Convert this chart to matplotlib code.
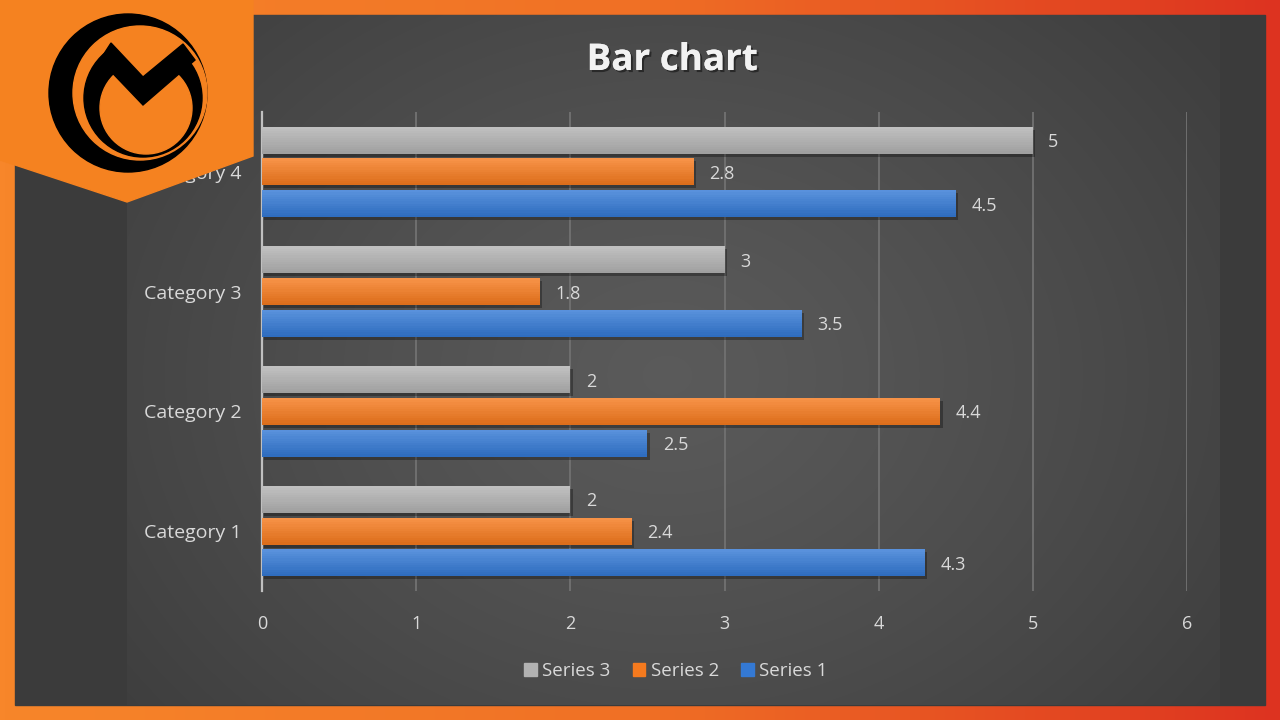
import matplotlib
matplotlib.use('Agg')
import matplotlib.pyplot as plt
import matplotlib.patheffects as pe
import numpy as np
from matplotlib.patches import Polygon, Circle, Rectangle
from matplotlib.colors import LinearSegmentedColormap, to_rgb

# data
categories = ['Category 1', 'Category 2', 'Category 3', 'Category 4']
series_names = ['Series 1', 'Series 2', 'Series 3']
series1 = [4.3, 2.5, 3.5, 4.5]
series2 = [2.4, 4.4, 1.8, 2.8]
series3 = [2, 2, 3, 5]
x_ticks = [0, 1, 2, 3, 4, 5, 6]

colors = ['#3479d4', '#f57a1e', '#b2b2b2']
text_col = '#d9d9d9'

plt.rcParams['font.family'] = ['Open Sans', 'DejaVu Sans']

fig = plt.figure(figsize=(12.8, 7.2), dpi=100)

# background: orange->red frame and dark radial panel
bg = fig.add_axes([0, 0, 1, 1], zorder=0)
bg.set_xlim(0, 1280)
bg.set_ylim(720, 0)
bg.axis('off')
frame_cmap = LinearSegmentedColormap.from_list('frame', ['#f7862a', '#f07025', '#dd3320'])
bg.imshow(np.linspace(0, 1, 256)[None, :], cmap=frame_cmap, aspect='auto',
          extent=(0, 1280, 720, 0))
bg.add_patch(Rectangle((15, 15), 1250, 690, color='#3b3b3b', zorder=2))
yy, xx = np.mgrid[0:690, 0:1093]
r = np.hypot(xx - 540, (yy - 360) * 1.25) / 680
r = np.clip(r, 0, 1)
panel = 0.355 - 0.11 * r ** 1.2
bg.imshow(np.dstack([panel] * 3), aspect='auto', interpolation='bilinear',
          extent=(127, 1220, 705, 15), zorder=3)

# chart
ax = fig.add_axes([262 / 1280, 1 - 591 / 720, 925 / 1280, 479 / 720], zorder=1)
ax.set_facecolor('none')
y = np.arange(1, len(categories) + 1)
h = 0.225
off = 0.265
n_strips = 12


def shade(c, t):
    # t from 0 (top, lighter) to 1 (bottom, darker)
    c = np.array(to_rgb(c))
    light = c + (1 - c) * 0.18
    dark = c * 0.9
    return tuple(light + (dark - light) * t)


for vals, dy, c in [(series1, -off, colors[0]), (series2, 0, colors[1]), (series3, off, colors[2])]:
    # soft shadow under the bar
    ax.barh(y + dy - 0.025, vals, height=h, left=0.015, color='black', alpha=0.3,
            zorder=2, linewidth=0)
    for k in range(n_strips):
        t = k / (n_strips - 1)
        yc = y + dy + h / 2 - (k + 0.5) * h / n_strips
        ax.barh(yc, vals, height=h / n_strips * 1.05, color=shade(c, t), zorder=3,
                linewidth=0)
    for yi, v in zip(y, vals):
        ax.text(v + 0.1, yi + dy, f'{v:g}', va='center_baseline', ha='left', color=text_col,
                fontsize=13, zorder=5)

ax.set_xlim(0, 6)
ax.set_ylim(0.5, 4.5)
ax.set_xticks(x_ticks)
ax.set_yticks(y)
ax.set_yticklabels(categories)
ax.tick_params(length=0, colors=text_col, labelsize=13)
ax.tick_params(axis='x', pad=17)
ax.tick_params(axis='y', pad=15, labelsize=14)
ax.grid(axis='x', color='#6f6f6f', linewidth=1.4, zorder=1)
ax.set_axisbelow(True)
for s in ['top', 'right', 'bottom']:
    ax.spines[s].set_visible(False)
ax.spines['left'].set_color('#c0c0c0')
ax.spines['left'].set_linewidth(1.6)

fig.text(672 / 1280, 1 - 60 / 720, 'Bar chart', ha='center', va='center',
         color='#f2f2f2', fontsize=26.5, fontweight='bold',
         path_effects=[pe.withSimplePatchShadow(offset=(1.5, -1.5), shadow_rgbFace='black',
                                                alpha=0.45), pe.Normal()])

handles = [Rectangle((0, 0), 1, 1, color=colors[i]) for i in (2, 1, 0)]
fig.legend(handles, ['Series 3', 'Series 2', 'Series 1'], loc='center',
           bbox_to_anchor=(676 / 1280, 1 - 671 / 720), ncol=3, frameon=False,
           handlelength=0.65, handleheight=0.65, handletextpad=0.3,
           columnspacing=1.2, labelcolor=text_col, fontsize=13.5)

# logo overlay
lg = fig.add_axes([0, 0, 1, 1], zorder=5)
lg.set_xlim(0, 1280)
lg.set_ylim(720, 0)
lg.axis('off')
lg.patch.set_alpha(0)
orange = '#f58220'
lg.add_patch(Polygon([(0, 0), (253, 0), (253, 156), (127, 202), (0, 160)], color=orange))
lg.add_patch(Circle((128, 93), 79, color='black'))
gap = Circle((140, 93), 67, color=orange)
lg.add_patch(gap)
inner = [
    Circle((143, 98), 59, color='black'),
    Circle((146, 108), 46, color=orange),
    # orange opening between the arms of the M
    Polygon([(99, 30), (143, 77), (188, 42), (175, 20), (120, 20)], color=orange),
    # the V of the M
    Polygon([(100, 60), (111, 43), (143, 77), (183, 44), (195, 60), (143, 105)], color='black'),
]
for p in inner:
    lg.add_patch(p)
    p.set_clip_path(gap)

fig.savefig('out.png', dpi=100)
plt.close(fig)
